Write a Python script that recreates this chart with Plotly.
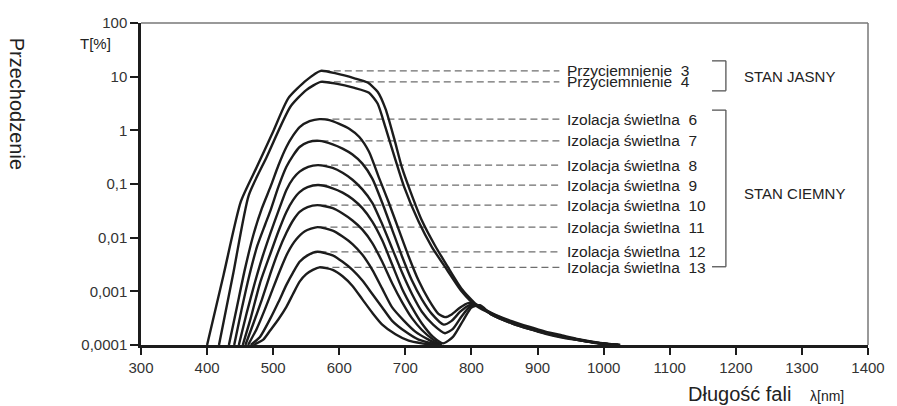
import numpy as np
import plotly.graph_objects as go

# transmission curves as log10(T[%])
wl_p3 = [400, 425, 451, 475, 500, 523, 550, 572, 595, 623, 643, 658, 670, 683, 695, 708, 725, 745, 763, 785,
         807, 830, 862, 887, 912, 937, 962, 990, 1025]
lg_p3 = [-4.0, -2.69, -1.33, -0.69, -0.02, 0.60, 0.93, 1.108, 1.06, 0.97, 0.89, 0.72, 0.40, -0.15, -0.70, -1.15,
         -1.68, -2.15, -2.52, -2.95, -3.24, -3.40, -3.56, -3.66, -3.75, -3.82, -3.89, -3.95, -4.0]

wl_p4 = [418, 440, 463, 490, 526, 550, 572, 595, 623, 645, 658, 670, 685, 698, 720, 740, 763, 785, 807, 830,
         862, 887, 912, 937, 962, 990, 1025]
lg_p4 = [-4.0, -2.64, -1.21, -0.50, 0.44, 0.75, 0.903, 0.87, 0.79, 0.70, 0.50, 0.05, -0.55, -1.05, -1.70, -2.17,
         -2.60, -3.0, -3.27, -3.42, -3.58, -3.68, -3.77, -3.84, -3.90, -3.96, -4.0]

wl_i6 = [433, 445, 457, 470, 483, 496, 508, 520, 530, 540, 555, 570, 585, 600, 615, 630, 645, 660, 675, 690,
         705, 720, 735, 750, 760, 770, 783, 795, 808, 830, 862, 887, 912, 937, 962, 990, 1022]
lg_i6 = [-4.0, -3.3, -2.6, -1.95, -1.45, -1.05, -0.65, -0.31, -0.10, 0.06, 0.17, 0.209, 0.19, 0.12, 0.03, -0.12,
         -0.40, -0.88, -1.35, -1.85, -2.35, -2.80, -3.15, -3.42, -3.48, -3.43, -3.30, -3.22, -3.25, -3.41, -3.58,
         -3.68, -3.77, -3.84, -3.90, -3.96, -4.0]

wl_i7 = [441, 452, 464, 476, 488, 496, 508, 520, 530, 540, 553, 570, 590, 605, 620, 635, 650, 665, 680, 695,
         710, 725, 740, 758, 770, 783, 796, 810, 830, 862, 887, 912, 937, 962, 990, 1022]
lg_i7 = [-4.0, -3.35, -2.7, -2.15, -1.75, -1.49, -1.05, -0.68, -0.47, -0.31, -0.22, -0.196, -0.26, -0.34, -0.45,
         -0.62, -0.90, -1.35, -1.85, -2.35, -2.80, -3.15, -3.42, -3.62, -3.55, -3.38, -3.26, -3.27, -3.42, -3.59,
         -3.69, -3.78, -3.85, -3.91, -3.96, -4.0]

wl_i8 = [448, 460, 472, 484, 496, 508, 520, 530, 540, 553, 568, 590, 605, 620, 635, 650, 665, 680, 695, 710,
         725, 742, 760, 772, 785, 798, 812, 830, 862, 887, 912, 937, 962, 990, 1022]
lg_i8 = [-4.0, -3.4, -2.85, -2.35, -1.91, -1.5, -1.11, -0.9, -0.77, -0.68, -0.648, -0.70, -0.79, -0.92, -1.10,
         -1.35, -1.75, -2.20, -2.65, -3.05, -3.38, -3.62, -3.78, -3.70, -3.47, -3.28, -3.27, -3.43, -3.60, -3.70,
         -3.78, -3.85, -3.91, -3.96, -4.0]

wl_i9 = [454, 466, 480, 496, 508, 520, 530, 540, 552, 568, 590, 605, 620, 635, 650, 665, 680, 695, 710, 725,
         742, 757, 772, 788, 800, 813, 830, 862, 887, 912, 937, 962, 990, 1022]
lg_i9 = [-4.0, -3.5, -2.85, -2.29, -1.88, -1.52, -1.30, -1.15, -1.06, -1.02, -1.08, -1.16, -1.28, -1.45, -1.70,
         -2.05, -2.50, -2.95, -3.30, -3.60, -3.85, -3.97, -3.85, -3.53, -3.30, -3.26, -3.43, -3.60, -3.70, -3.79,
         -3.86, -3.91, -3.97, -4.0]

wl_i10 = [458, 470, 483, 496, 508, 520, 530, 540, 552, 567, 590, 605, 620, 635, 650, 665, 680, 695, 710, 725,
          742, 755]
lg_i10 = [-4.0, -3.6, -3.15, -2.66, -2.25, -1.91, -1.68, -1.52, -1.43, -1.393, -1.45, -1.55, -1.68, -1.85, -2.10,
          -2.45, -2.85, -3.20, -3.50, -3.72, -3.90, -4.0]

wl_i11 = [462, 475, 487, 498, 510, 522, 535, 548, 567, 590, 605, 620, 635, 650, 665, 680, 698, 715, 735, 752]
lg_i11 = [-4.0, -3.7, -3.35, -3.0, -2.62, -2.28, -2.03, -1.88, -1.803, -1.87, -1.98, -2.12, -2.32, -2.60, -2.95,
          -3.30, -3.55, -3.75, -3.90, -4.0]

wl_i12 = [466, 480, 496, 508, 520, 530, 540, 552, 567, 590, 605, 620, 635, 650, 665, 680, 700, 720, 740, 750]
lg_i12 = [-4.0, -3.85, -3.5, -3.2, -2.88, -2.65, -2.45, -2.33, -2.263, -2.33, -2.45, -2.60, -2.80, -3.05, -3.30,
          -3.55, -3.75, -3.90, -3.97, -4.0]

wl_i13 = [470, 485, 496, 508, 520, 530, 540, 550, 560, 570, 590, 605, 620, 635, 650, 665, 685, 705, 725, 745]
lg_i13 = [-4.0, -3.9, -3.72, -3.52, -3.29, -3.05, -2.82, -2.68, -2.60, -2.553, -2.6, -2.72, -2.90, -3.15, -3.40,
          -3.62, -3.80, -3.92, -3.97, -4.0]

labels = ["Przyciemnienie\u00a0\u00a03", "Przyciemnienie\u00a0\u00a04",
          "Izolacja świetlna\u00a0\u00a06", "Izolacja świetlna\u00a0\u00a07", "Izolacja świetlna\u00a0\u00a08",
          "Izolacja świetlna\u00a0\u00a09", "Izolacja świetlna\u00a0\u00a010", "Izolacja świetlna\u00a0\u00a011",
          "Izolacja świetlna\u00a0\u00a012", "Izolacja świetlna\u00a0\u00a013"]

curves = [(wl_p3, lg_p3), (wl_p4, lg_p4), (wl_i6, lg_i6), (wl_i7, lg_i7), (wl_i8, lg_i8),
          (wl_i9, lg_i9), (wl_i10, lg_i10), (wl_i11, lg_i11), (wl_i12, lg_i12), (wl_i13, lg_i13)]

y_ticks = [0.0001, 0.001, 0.01, 0.1, 1, 10, 100]
y_ticktext = ["0,0001", "0,001", "0,01", "0,1", "1", "10", "100"]

FONT = "Liberation Sans, Arial, sans-serif"
INK = "#1c1c1c"
label_x = 941      # nm, start of the curve names
dash_end = 933

fig = go.Figure()

# dashed leader lines from each peak to its label
for (wl, lg), name in zip(curves, labels):
    k = int(np.argmax(lg))
    peak = 10 ** lg[k]
    fig.add_trace(go.Scatter(
        x=[wl[k] + 3, dash_end], y=[peak, peak], mode="lines",
        line=dict(color="#6e6e6e", width=1.2, dash="7px,4px"),
        hoverinfo="skip", showlegend=False,
    ))
    fig.add_annotation(
        x=label_x, y=lg[k], xref="x", yref="y", text=name, showarrow=False,
        xanchor="left", yanchor="middle", font=dict(family=FONT, size=15.5, color="#222"),
    )

for (wl, lg), name in zip(curves, labels):
    fig.add_trace(go.Scatter(
        x=wl, y=[10 ** v for v in lg], mode="lines", name=name,
        line=dict(color=INK, width=2.4, shape="spline", smoothing=0.6),
        showlegend=False,
    ))

# brackets grouping the states
br = dict(color="#555", width=1.3)
for top, bot in [(19.7, 5.44), (2.38, 0.00287)]:
    fig.add_shape(type="line", xref="x", yref="y", x0=1185, x1=1185, y0=bot, y1=top, line=br)
    fig.add_shape(type="line", xref="x", yref="y", x0=1164, x1=1185, y0=top, y1=top, line=br)
    fig.add_shape(type="line", xref="x", yref="y", x0=1164, x1=1185, y0=bot, y1=bot, line=br)

fig.add_annotation(x=1209, y=1.0, xref="x", yref="y", text="STAN JASNY", showarrow=False,
                   xanchor="left", yanchor="middle", font=dict(family=FONT, size=15, color="#222"))
fig.add_annotation(x=1209, y=-1.17, xref="x", yref="y", text="STAN CIEMNY", showarrow=False,
                   xanchor="left", yanchor="middle", font=dict(family=FONT, size=15, color="#222"))

# frame: thin top and right borders
fig.add_shape(type="line", xref="paper", yref="paper", x0=0, x1=1, y0=1, y1=1, line=dict(color="#777", width=1.3))
fig.add_shape(type="line", xref="paper", yref="paper", x0=1, x1=1, y0=0, y1=1, line=dict(color="#777", width=1.5))

# axis titles
fig.add_annotation(x=-0.1714, y=0.748, xref="paper", yref="paper", text="Przechodzenie", showarrow=False,
                   textangle=90, xanchor="center", yanchor="middle", font=dict(family=FONT, size=20, color="#222"))
fig.add_annotation(x=-0.063, y=0.935, xref="paper", yref="paper", text="T[%]", showarrow=False,
                   xanchor="center", yanchor="middle", font=dict(family=FONT, size=15, color="#222"))
fig.add_annotation(x=0.7497, y=-0.152, xref="paper", yref="paper", text="Długość fali", showarrow=False,
                   xanchor="left", yanchor="middle", font=dict(family=FONT, size=20, color="#222"))
fig.add_annotation(x=0.917, y=-0.158, xref="paper", yref="paper", text="λ[nm]", showarrow=False,
                   xanchor="left", yanchor="middle", font=dict(family=FONT, size=14, color="#222"))

fig.update_layout(
    width=897, height=406,
    margin=dict(l=141, r=21, t=23, b=61),
    plot_bgcolor="white", paper_bgcolor="white",
    font=dict(family=FONT, size=15, color="#333"),
    xaxis=dict(range=[300, 1400], dtick=100, tick0=300, showgrid=False, zeroline=False,
               showline=True, linecolor=INK, linewidth=2.5,
               ticks="outside", ticklen=7, tickwidth=2, tickcolor=INK),
    yaxis=dict(type="log", range=[-4, 2], tickvals=y_ticks, ticktext=y_ticktext,
               showgrid=False, zeroline=False, showline=True, linecolor=INK, linewidth=2.5,
               ticks="outside", ticklen=8, tickwidth=2, tickcolor=INK),
)

# put the figure flush in the window corner, without scrollbars
fig.write_html(
    "out.html",
    config={"displayModeBar": False},
    post_script=("document.body.style.margin='0';"
                 "document.documentElement.style.overflow='hidden';"
                 "document.body.style.overflow='hidden';"),
)
